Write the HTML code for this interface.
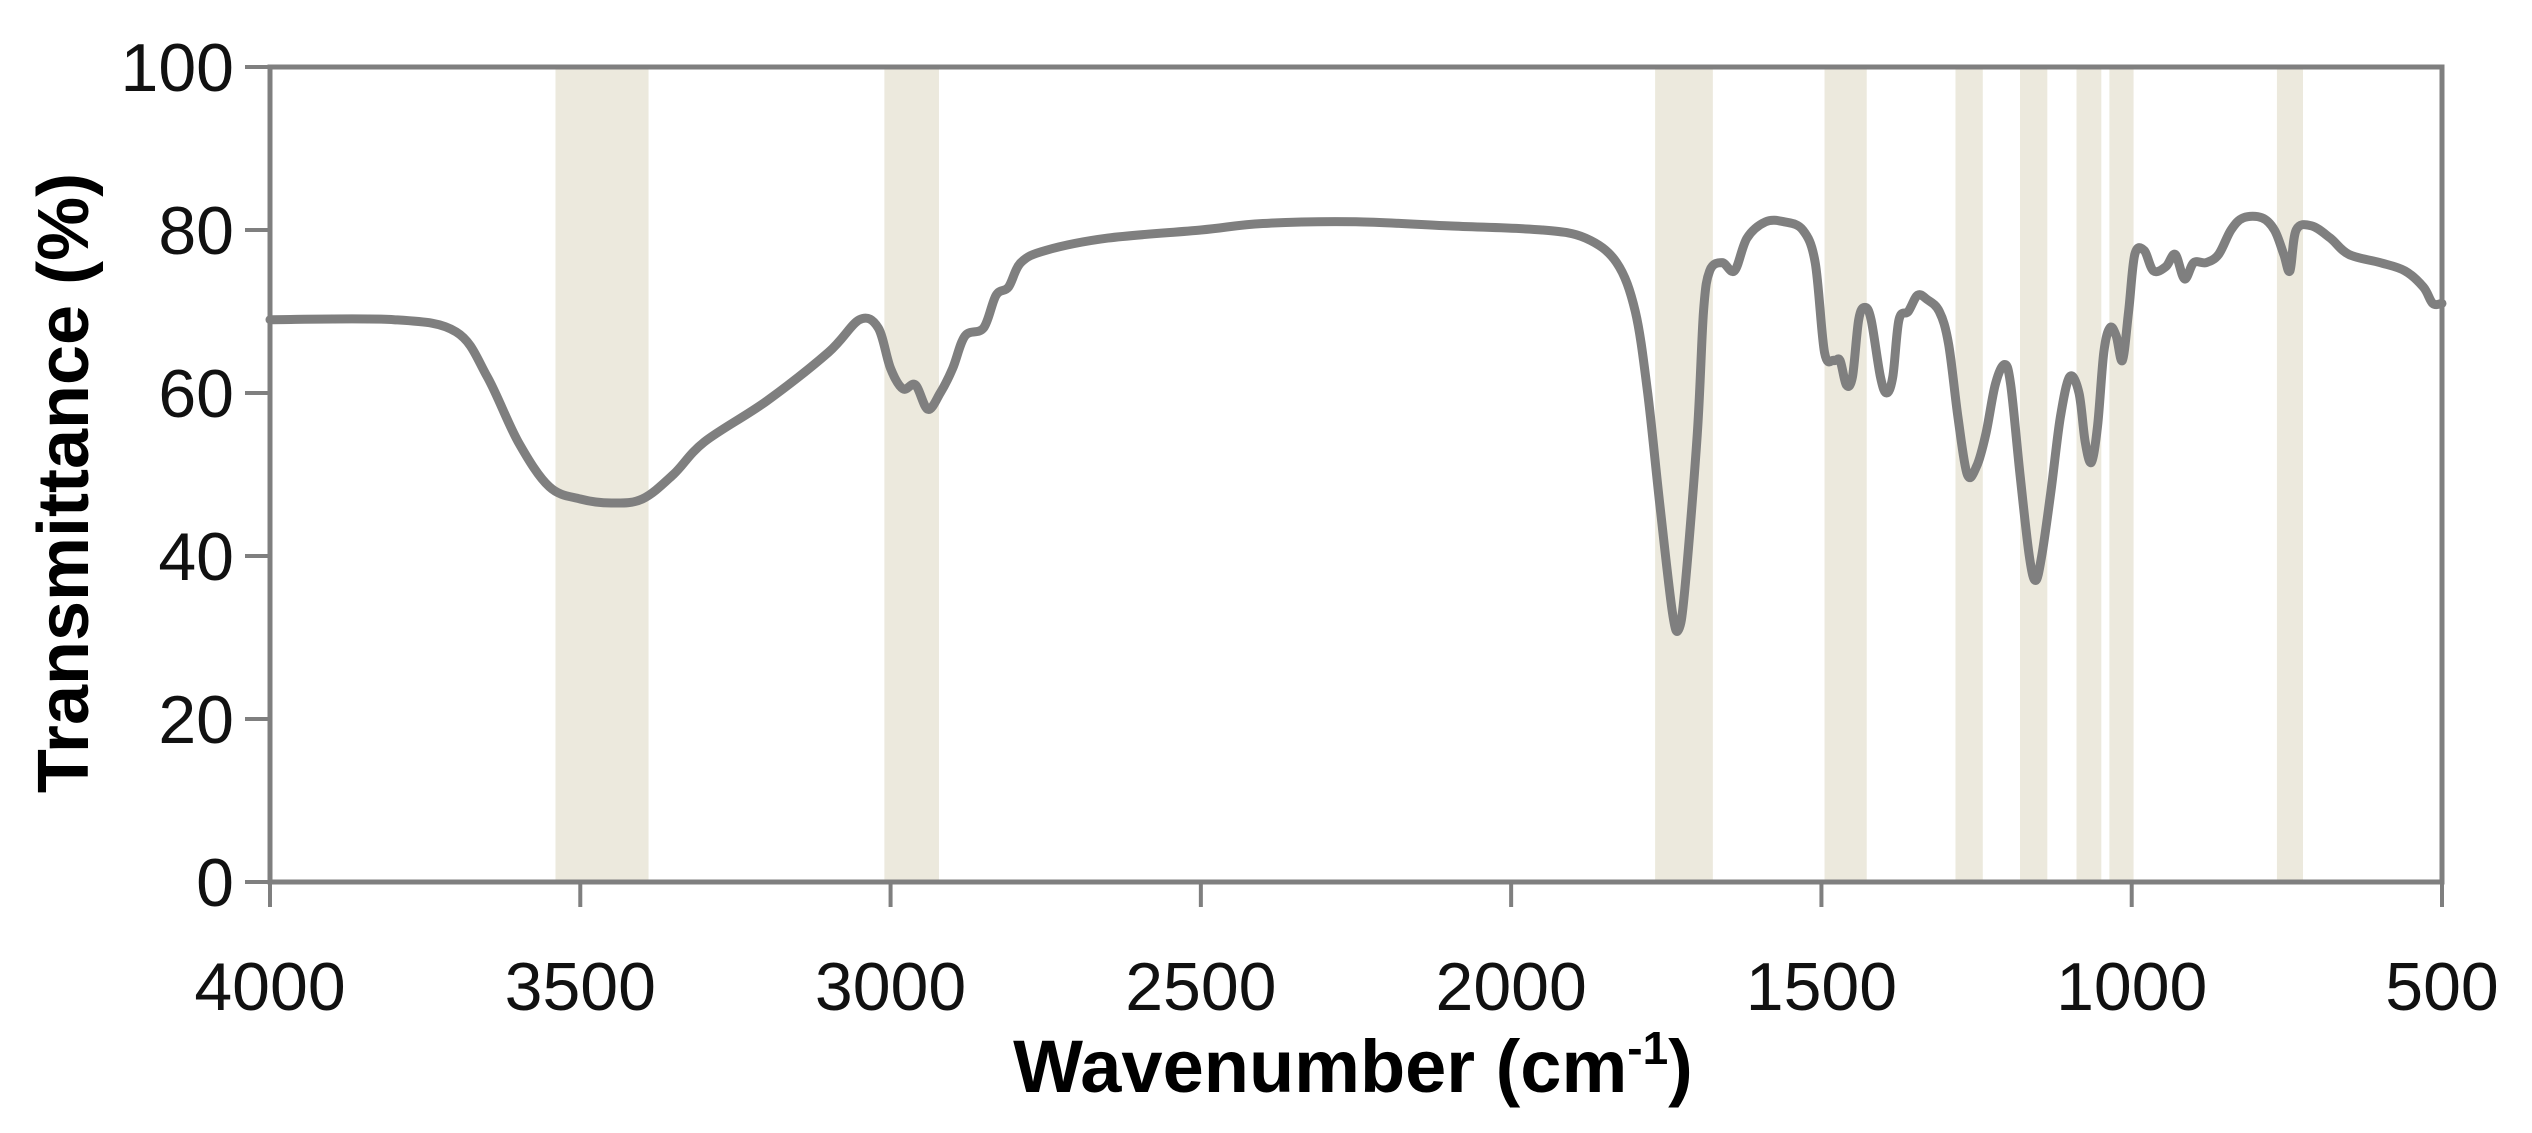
<!DOCTYPE html>
<html><head><meta charset="utf-8"><style>
html,body{margin:0;padding:0;background:#fff;}
svg{display:block;font-family:"Liberation Sans",sans-serif;}
</style></head><body>
<svg id="chart" width="2532" height="1133" viewBox="0 0 2532 1133" xmlns="http://www.w3.org/2000/svg">
<g id="bands"></g>
<g id="series"></g>
<g id="axes"></g>
<text x="0" y="0" transform="translate(88,483) rotate(-90)" text-anchor="middle" font-weight="bold" font-size="72" fill="#000">Transmittance (%)</text>
<text x="1353" y="1092" text-anchor="middle" font-weight="bold" font-size="74" fill="#000">Wavenumber (cm<tspan font-size="46" dy="-28">-1</tspan><tspan dy="28">)</tspan></text>
</svg>
<script>
const xTicks=[4000,3500,3000,2500,2000,1500,1000,500];
const yTicks=[0,20,40,60,80,100];
const bandStart=[3540,3010,1768,1495,1284,1180,1089,1036,766];
const bandEnd=[3390,2922,1675,1427,1240,1136,1049,997,724];
const wavenumber=[4000,3800,3700,3650,3600,3550,3500,3450,3400,3350,3300,3200,3100,3050,3020,3000,2980,2960,2940,2920,2900,2880,2850,2830,2810,2790,2750,2650,2500,2400,2250,2100,1950,1880,1830,1800,1780,1760,1740,1730,1720,1700,1690,1680,1660,1640,1620,1590,1560,1530,1510,1495,1480,1470,1460,1450,1440,1430,1420,1405,1395,1385,1375,1360,1345,1330,1310,1295,1280,1265,1250,1235,1220,1205,1195,1180,1165,1155,1145,1130,1115,1100,1085,1075,1065,1055,1045,1035,1025,1015,1005,995,980,965,945,930,915,900,880,860,840,820,790,770,755,745,735,710,680,650,600,560,530,515,500];
const transmittance=[69,69,67.5,62,54,48.5,47,46.5,47,50,54,59,65,69,68,63,60.5,61,58,60,63,67,68,72,73,76,77.5,79,80,80.8,81,80.5,80,79,76,70,60,46,33,31,36,55,70,75,76,75,79,81,81,80,76,65,64,64,61,62,69,70.5,69,62,60,62,69,70,72,71.5,70,66,57,50,51,55,61,63.5,61,50,40,37,40,48,57,62,60,54,51.5,56,65,68,67,64,70,77,77.5,75,75.5,77,74,76,76,77,80,81.5,81.5,80,77,75,80,80.5,79,77,76,75,73,71,71];
const L=270,R=2442,T=67,B=882;
const xs=w=>L+(4000-w)/3500*(R-L);
const ys=v=>B-v/100*(B-T);
const NS='http://www.w3.org/2000/svg';
function mk(tag,attrs,parent){const e=document.createElementNS(NS,tag);for(const k in attrs)e.setAttribute(k,attrs[k]);parent.appendChild(e);return e;}
const bands=document.getElementById('bands');
bandStart.forEach((s,i)=>{const x1=xs(s),x2=xs(bandEnd[i]);
const r=mk('rect',{x:x1,y:T,width:x2-x1,height:B-T,fill:'#ece9dd'},bands);

});
const series=document.getElementById('series');
const pts=wavenumber.map((w,i)=>[xs(w),ys(transmittance[i])]);
let d='M'+pts[0][0].toFixed(1)+','+pts[0][1].toFixed(1);
for(let i=0;i<pts.length-1;i++){
const p0=pts[Math.max(0,i-1)],p1=pts[i],p2=pts[i+1],p3=pts[Math.min(pts.length-1,i+2)];
const c1x=p1[0]+(p2[0]-p0[0])/6,c1y=p1[1]+(p2[1]-p0[1])/6;
const c2x=p2[0]-(p3[0]-p1[0])/6,c2y=p2[1]-(p3[1]-p1[1])/6;
d+=' C'+c1x.toFixed(1)+','+c1y.toFixed(1)+' '+c2x.toFixed(1)+','+c2y.toFixed(1)+' '+p2[0].toFixed(1)+','+p2[1].toFixed(1);}
const p=mk('path',{d:d,fill:'none',stroke:'#7f7f7f','stroke-width':9,'stroke-linejoin':'round','stroke-linecap':'round'},series);


const axes=document.getElementById('axes');
const f=mk('rect',{x:L,y:T,width:R-L,height:B-T,fill:'none',stroke:'#7f7f7f','stroke-width':5},axes);


xTicks.forEach(w=>{const x=xs(w);
const t=mk('line',{x1:x,x2:x,y1:B,y2:B+25,stroke:'#7f7f7f','stroke-width':4},axes);


const lb=mk('text',{x:x,y:B+128,'text-anchor':'middle','font-size':68,fill:'#111'},axes);
lb.textContent=w;

});
yTicks.forEach(v=>{const y=ys(v);
const t=mk('line',{x1:L-25,x2:L,y1:y,y2:y,stroke:'#7f7f7f','stroke-width':4},axes);


const lb=mk('text',{x:L-36,y:y+24,'text-anchor':'end','font-size':68,fill:'#111'},axes);
lb.textContent=v;

});
</script>
</body></html>
